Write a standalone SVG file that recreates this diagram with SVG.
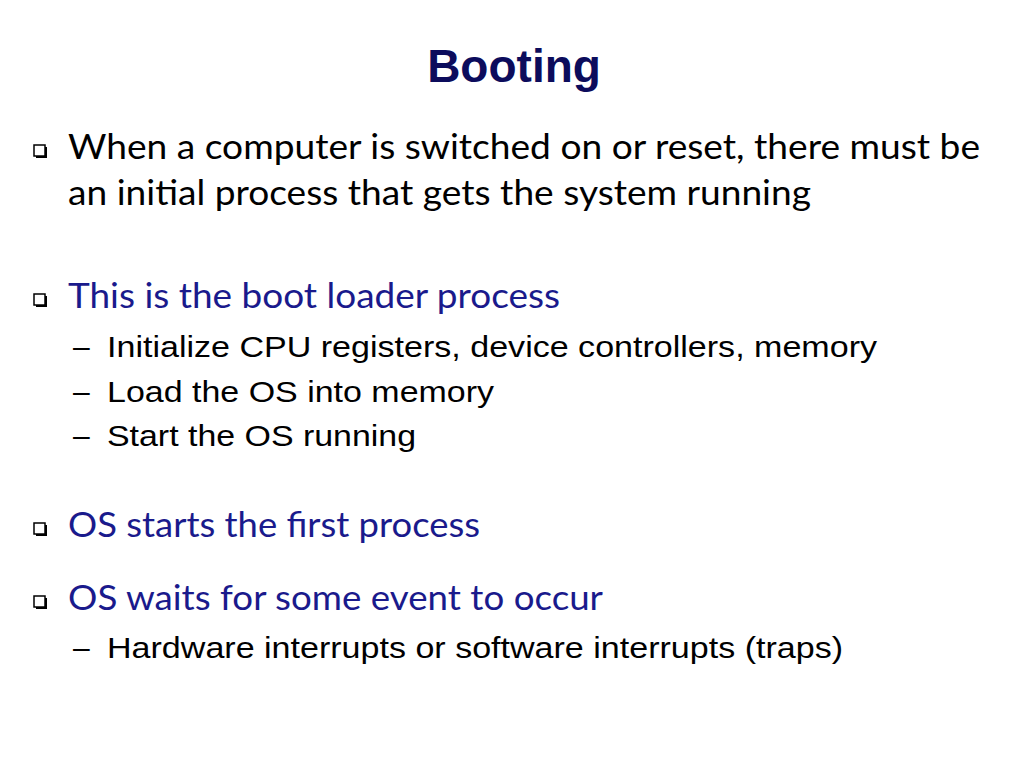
<svg xmlns="http://www.w3.org/2000/svg" width="1024" height="768" viewBox="0 0 1024 768">
<defs>
<style>
.t{font-family:"Liberation Sans",Arial,sans-serif;font-weight:bold;font-size:46px;fill:#0c0c5c}
.b{font-family:Lato,"Open Sans",sans-serif;font-size:34px}
.s{font-family:"Liberation Sans",Arial,sans-serif;font-size:30px;fill:#000}
.n{fill:#1a1a8c}
</style>
<g id="bul">
<rect x="2" y="2" width="11" height="11" fill="#000"/>
<rect x="0" y="0" width="11" height="11" fill="#fff" stroke="#000" stroke-width="1.5"/>
</g>
</defs>
<rect width="1024" height="768" fill="#fff"/>
<text class="t" x="514" y="82" text-anchor="middle">Booting</text>
<use href="#bul" x="34" y="145"/>
<text class="b" x="68" y="159" textLength="912" lengthAdjust="spacingAndGlyphs">When a computer is switched on or reset, there must be</text>
<text class="b" x="68" y="205" textLength="743" lengthAdjust="spacingAndGlyphs">an initial process that gets the system running</text>
<use href="#bul" x="34" y="294"/>
<text class="b n" x="68" y="308" textLength="492" lengthAdjust="spacingAndGlyphs">This is the boot loader process</text>
<text class="s" x="73" y="357">–</text>
<text class="s" x="107" y="357" textLength="770" lengthAdjust="spacingAndGlyphs">Initialize CPU registers, device controllers, memory</text>
<text class="s" x="73" y="402">–</text>
<text class="s" x="107" y="402" textLength="387" lengthAdjust="spacingAndGlyphs">Load the OS into memory</text>
<text class="s" x="73" y="446">–</text>
<text class="s" x="107" y="446" textLength="309" lengthAdjust="spacingAndGlyphs">Start the OS running</text>
<use href="#bul" x="34" y="523"/>
<text class="b n" x="68" y="537" textLength="412" lengthAdjust="spacingAndGlyphs">OS starts the first process</text>
<use href="#bul" x="34" y="596"/>
<text class="b n" x="68" y="610" textLength="535" lengthAdjust="spacingAndGlyphs">OS waits for some event to occur</text>
<text class="s" x="73" y="658">–</text>
<text class="s" x="107" y="658" textLength="736" lengthAdjust="spacingAndGlyphs">Hardware interrupts or software interrupts (traps)</text>
</svg>
